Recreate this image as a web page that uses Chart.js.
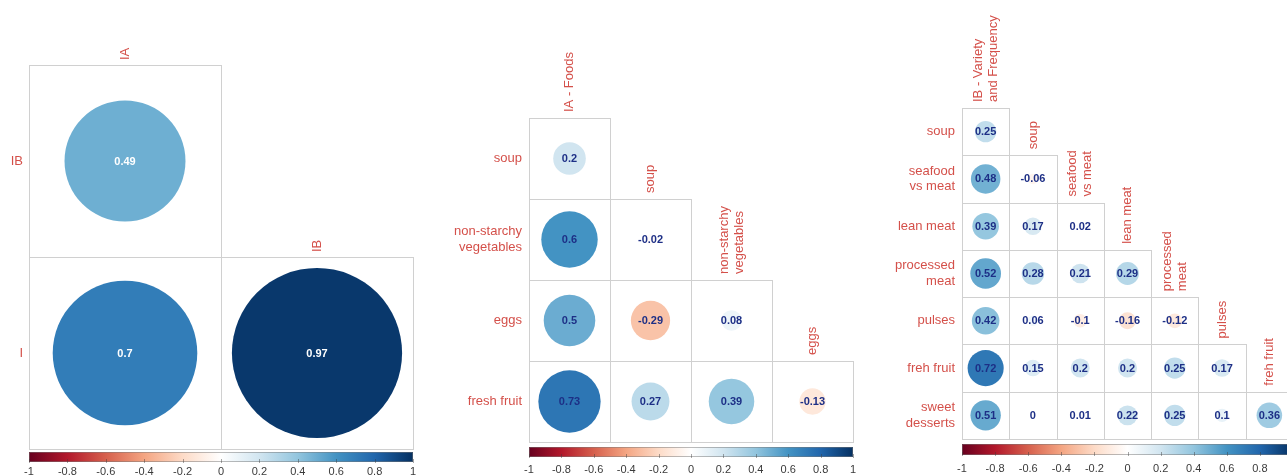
<!DOCTYPE html>
<html>
<head>
<meta charset="utf-8">
<script src="https://cdn.jsdelivr.net/npm/chart.js@4.4.0/dist/chart.umd.min.js"></script>
<style>
  html, body { margin: 0; padding: 0; background: #fff; overflow: hidden; width: 1287px; height: 476px; }
  .panel { position: absolute; top: 0; height: 476px; }
</style>
</head>
<body>
<div class="panel" style="left:0"><canvas id="corr-ia-ib" width="430" height="476"></canvas></div>
<div class="panel" style="left:430px"><canvas id="corr-ia-foods" width="430" height="476"></canvas></div>
<div class="panel" style="left:860px"><canvas id="corr-ib-variety" width="460" height="476"></canvas></div>
<script>
// ---- data ----
const overallCols = ['IA', 'IB'];
const overallRows = ['IB', 'I'];
const overallValues = [
  [0.49],
  [0.7, 0.97]
];

const foodsCols = ['IA - Foods', 'soup', ['non-starchy', 'vegetables'], 'eggs'];
const foodsRows = ['soup', ['non-starchy', 'vegetables'], 'eggs', 'fresh fruit'];
const foodsValues = [
  [0.2],
  [0.6, -0.02],
  [0.5, -0.29, 0.08],
  [0.73, 0.27, 0.39, -0.13]
];

const varietyCols = [['IB - Variety', 'and Frequency'], 'soup', ['seafood', 'vs meat'], 'lean meat',
  ['processed', 'meat'], 'pulses', 'freh fruit'];
const varietyRows = ['soup', ['seafood', 'vs meat'], 'lean meat', ['processed', 'meat'], 'pulses',
  'freh fruit', ['sweet', 'desserts']];
const varietyValues = [
  [0.25],
  [0.48, -0.06],
  [0.39, 0.17, 0.02],
  [0.52, 0.28, 0.21, 0.29],
  [0.42, 0.06, -0.1, -0.16, -0.12],
  [0.72, 0.15, 0.2, 0.2, 0.25, 0.17],
  [0.51, 0, 0.01, 0.22, 0.25, 0.1, 0.36]
];

const colorbarTicks = [-1, -0.8, -0.6, -0.4, -0.2, 0, 0.2, 0.4, 0.6, 0.8, 1];
// RdBu diverging palette, -1 .. 1
const rdbu = ['#67001F', '#B2182B', '#D6604D', '#F4A582', '#FDDBC7', '#FFFFFF',
  '#D1E5F0', '#92C5DE', '#4393C3', '#2166AC', '#053061'];

const FONT = "'Liberation Sans', Arial, sans-serif";
const LABEL_RED = '#d4504a';
const NAVY = '#1d2f86';
const H = 476;

function hexRgb(h) {
  const n = parseInt(h.slice(1), 16);
  return [(n >> 16) & 255, (n >> 8) & 255, n & 255];
}

function corrColor(v) {
  const t = (v + 1) / 2 * (rdbu.length - 1);
  const i = Math.min(Math.floor(t), rdbu.length - 2);
  const f = t - i;
  const a = hexRgb(rdbu[i]), b = hexRgb(rdbu[i + 1]);
  return 'rgb(' + a.map((c, k) => Math.round(c + (b[k] - c) * f)).join(',') + ')';
}

/**
 * Lower-triangle correlation plot: circles sized by sqrt(|r|), coloured by r.
 */
function makeCorrChart(id, cols, rows, values, box) {
  const n = rows.length;
  const points = [];
  values.forEach((row, i) => row.forEach((v, j) => points.push({ x: j + 0.5, y: i + 0.5, v })));

  const decor = {
    id: 'corrDecor',
    beforeDatasetsDraw(chart) {
      const { ctx, scales: { x, y } } = chart;
      ctx.save();
      ctx.strokeStyle = '#d0d0d0';
      ctx.lineWidth = 1;
      values.forEach((row, i) => row.forEach((v, j) => {
        const l = Math.round(x.getPixelForValue(j)), r = Math.round(x.getPixelForValue(j + 1));
        const t = Math.round(y.getPixelForValue(i)), b = Math.round(y.getPixelForValue(i + 1));
        ctx.strokeRect(l + 0.5, t + 0.5, r - l, b - t);
      }));
      ctx.restore();
    },
    afterDatasetsDraw(chart) {
      const { ctx, scales: { x, y, xc }, chartArea } = chart;
      ctx.save();

      // correlation values
      ctx.font = 'bold 11px ' + FONT;
      ctx.fillStyle = box.numColor;
      ctx.textAlign = 'center';
      ctx.textBaseline = 'middle';
      chart.getDatasetMeta(0).data.forEach((el, k) => {
        ctx.fillText(String(points[k].v), el.x, el.y + 0.5);
      });

      // staircase column labels, rotated
      ctx.font = '13px ' + FONT;
      ctx.fillStyle = LABEL_RED;
      ctx.textAlign = 'left';
      cols.forEach((label, j) => {
        const lines = Array.isArray(label) ? label : [label];
        const cx = x.getPixelForValue(j + 0.5);
        const top = y.getPixelForValue(j) - box.colGap;
        ctx.save();
        ctx.translate(cx, top);
        ctx.rotate(-Math.PI / 2);
        lines.forEach((ln, k) => ctx.fillText(ln, 0, (k - (lines.length - 1) / 2) * 15));
        ctx.restore();
      });

      // colour bar
      const x0 = xc.getPixelForValue(-1), x1 = xc.getPixelForValue(1);
      const cy = chartArea.bottom + box.cbGap;
      const grad = ctx.createLinearGradient(x0, 0, x1, 0);
      rdbu.forEach((c, k) => grad.addColorStop(k / (rdbu.length - 1), c));
      ctx.fillStyle = grad;
      ctx.fillRect(x0, cy, x1 - x0, box.cbH);
      ctx.strokeStyle = 'rgba(120,120,120,0.5)';
      ctx.lineWidth = 1;
      ctx.strokeRect(x0 + 0.5, cy + 0.5, x1 - x0 - 1, box.cbH - 1);
      ctx.strokeStyle = 'rgba(60,60,60,0.45)';
      colorbarTicks.forEach(v => {
        const px = Math.round(xc.getPixelForValue(v)) + 0.5;
        ctx.beginPath();
        ctx.moveTo(px, cy + box.cbH - 3);
        ctx.lineTo(px, cy + box.cbH + 1);
        ctx.stroke();
      });
      ctx.restore();
    }
  };

  return new Chart(document.getElementById(id), {
    type: 'scatter',
    data: {
      datasets: [{
        data: points,
        pointBackgroundColor: c => (c.raw ? corrColor(c.raw.v) : '#fff'),
        pointBorderWidth: 0,
        pointHoverBorderWidth: 0,
        // circle area proportional to |r|
        pointRadius: c => {
          if (!c.raw) return 0;
          const xs = c.chart.scales.x;
          const cell = xs.getPixelForValue(1) - xs.getPixelForValue(0);
          return 0.45 * cell * Math.sqrt(Math.abs(c.raw.v));
        }
      }]
    },
    options: {
      responsive: false,
      animation: false,
      events: [],
      layout: { padding: { left: 0, top: box.top, right: box.right, bottom: 0 } },
      plugins: { legend: { display: false }, tooltip: { enabled: false } },
      scales: {
        x: { type: 'linear', min: 0, max: n, display: false },
        y: {
          type: 'linear', min: 0, max: n, reverse: true, position: 'left',
          grid: { display: false, drawTicks: false },
          border: { display: false },
          afterBuildTicks: a => { a.ticks = rows.map((_, i) => ({ value: i + 0.5 })); },
          afterFit: a => { a.width = box.left; },
          ticks: {
            autoSkip: false,
            padding: box.labelPad,
            color: LABEL_RED,
            font: { family: FONT, size: 13, lineHeight: 1.2 },
            callback: (v, i) => rows[i]
          }
        },
        xc: {
          type: 'linear', axis: 'x', position: 'bottom', min: -1, max: 1,
          // invisible tick marks only push the labels below the colour bar
          grid: { display: true, color: 'transparent', drawOnChartArea: false, drawTicks: true, tickLength: box.tickPad },
          border: { display: false },
          afterBuildTicks: a => { a.ticks = colorbarTicks.map(v => ({ value: v })); },
          afterFit: a => { a.height = H - box.bottom; },
          ticks: {
            autoSkip: false,
            maxRotation: 0,
            padding: 0,
            color: '#3a3a3a',
            font: { family: FONT, size: 11, lineHeight: 1.2 },
            callback: (v, i) => String(colorbarTicks[i])
          }
        }
      }
    },
    plugins: [decor]
  });
}

makeCorrChart('corr-ia-ib', overallCols, overallRows, overallValues,
  { left: 29, top: 65, right: 17, bottom: 449, labelPad: 6, colGap: 5, cbGap: 3, cbH: 10, tickPad: 16, numColor: '#ffffff' });
makeCorrChart('corr-ia-foods', foodsCols, foodsRows, foodsValues,
  { left: 99, top: 118, right: 7, bottom: 442, labelPad: 7, colGap: 6, cbGap: 5, cbH: 10, tickPad: 21, numColor: NAVY });
makeCorrChart('corr-ib-variety', varietyCols, varietyRows, varietyValues,
  { left: 102, top: 108, right: 27, bottom: 439, labelPad: 7, colGap: 6, cbGap: 5, cbH: 11, tickPad: 23, numColor: NAVY });
</script>
</body>
</html>
